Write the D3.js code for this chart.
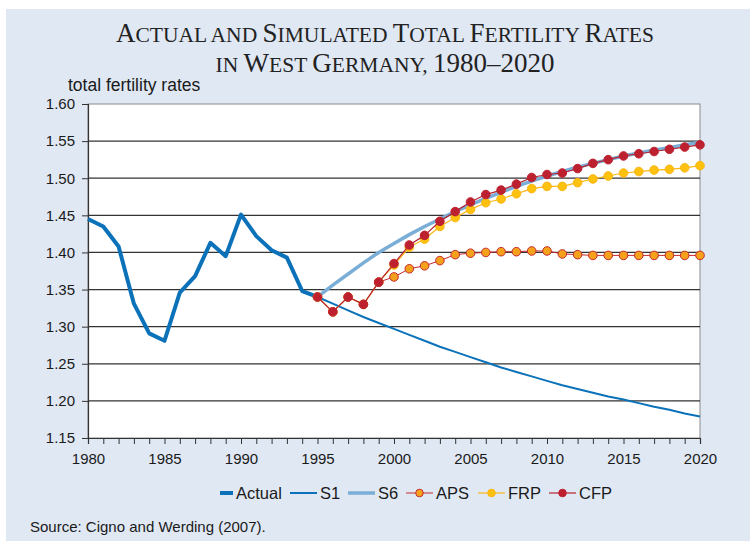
<!DOCTYPE html>
<html>
<head>
<meta charset="utf-8">
<script src="https://cdn.jsdelivr.net/npm/d3@7"></script>
<style>
  body { margin: 0; background: #fff; }
  svg { display: block; }
  text { font-family: "Liberation Sans", Arial, sans-serif; fill: #1a1a1a; }
</style>
</head>
<body>
<svg width="750" height="541"></svg>
<script>
const width = 750;
const height = 541;

// data
const actualYears = d3.range(1980, 1996);
const actual = [1.445, 1.435, 1.408, 1.331, 1.291, 1.281, 1.346, 1.368, 1.413, 1.395,
  1.451, 1.422, 1.403, 1.393, 1.348, 1.340];

const projYears = d3.range(1995, 2021);
const s1 = [1.340, 1.331, 1.322, 1.313, 1.305, 1.297, 1.289, 1.281, 1.273, 1.266,
  1.259, 1.252, 1.245, 1.239, 1.233, 1.227, 1.221, 1.216, 1.211, 1.206,
  1.202, 1.197, 1.192, 1.188, 1.183, 1.179];
const s6 = [1.340, 1.356, 1.371, 1.386, 1.400, 1.412, 1.424, 1.435, 1.445, 1.455,
  1.464, 1.473, 1.481, 1.489, 1.496, 1.503, 1.509, 1.515, 1.520, 1.525,
  1.530, 1.534, 1.538, 1.541, 1.545, 1.548];
const aps = [1.340, 1.320, 1.340, 1.330, 1.360, 1.367, 1.378, 1.382, 1.389, 1.397,
  1.399, 1.400, 1.401, 1.401, 1.402, 1.402, 1.398, 1.397, 1.396, 1.396,
  1.396, 1.396, 1.396, 1.396, 1.396, 1.396];
const frp = [1.340, 1.320, 1.340, 1.330, 1.360, 1.383, 1.407, 1.418, 1.435, 1.447,
  1.458, 1.467, 1.472, 1.479, 1.486, 1.489, 1.489, 1.494, 1.499, 1.503,
  1.507, 1.509, 1.511, 1.512, 1.514, 1.517];
const cfp = [1.340, 1.320, 1.340, 1.330, 1.360, 1.385, 1.410, 1.423, 1.442, 1.455,
  1.468, 1.478, 1.484, 1.492, 1.501, 1.505, 1.507, 1.513, 1.520, 1.525,
  1.530, 1.533, 1.536, 1.539, 1.542, 1.545];

const yTicks = [1.15, 1.20, 1.25, 1.30, 1.35, 1.40, 1.45, 1.50, 1.55, 1.60];
const xLabelYears = [1980, 1985, 1990, 1995, 2000, 2005, 2010, 2015, 2020];

const series = [
  { name: "Actual", years: actualYears, values: actual, color: "#0b72ba", width: 4 },
  { name: "S1", years: projYears, values: s1, color: "#0b72ba", width: 2 },
  { name: "S6", years: projYears, values: s6, color: "#7aaed6", width: 3.5 },
  { name: "APS", years: projYears, values: aps, color: "#c42a2f", width: 1, marker: "#f6a11c", markerStroke: "#c42a2f" },
  { name: "FRP", years: projYears, values: frp, color: "#fbb615", width: 1.2, marker: "#fec10e", markerStroke: "#fbb615" },
  { name: "CFP", years: projYears, values: cfp, color: "#b72330", width: 1.2, marker: "#bd2130", markerStroke: "#bd2130" }
];

const plot = { left: 88, right: 700, top: 104, bottom: 438 };

const svg = d3.select("svg");

// page background
svg.append("rect")
  .attr("x", 6).attr("y", 9)
  .attr("width", width - 6).attr("height", height - 9)
  .attr("fill", "#e0e8f4");

const xScale = d3.scaleLinear().domain([1980, 2020]).range([plot.left, plot.right]);
const yScale = d3.scaleLinear().domain([1.15, 1.60]).range([plot.bottom, plot.top]);

svg.append("rect")
  .attr("x", plot.left).attr("y", plot.top)
  .attr("width", plot.right - plot.left).attr("height", plot.bottom - plot.top)
  .attr("fill", "#fff")
  .attr("stroke", "#8a8a8a");

// grid
svg.append("g")
  .selectAll("line")
  .data(yTicks.filter(d => d > 1.15 && d < 1.60))
  .enter()
  .append("line")
  .attr("x1", plot.left).attr("x2", plot.right)
  .attr("y1", d => yScale(d)).attr("y2", d => yScale(d))
  .attr("stroke", "#333").attr("stroke-width", 1.2);

// title
const title = svg.append("text")
  .attr("text-anchor", "middle")
  .style("font-family", "'Liberation Serif', 'Times New Roman', serif")
  .style("fill", "#222");

function smallCaps(textEl, parts, x, y) {
  const line = textEl.append("tspan").attr("x", x).attr("y", y);
  parts.forEach(([s, big]) => {
    line.append("tspan").style("font-size", big ? "27px" : "21.5px").text(s);
  });
}
smallCaps(title, [["A", 1], ["CTUAL AND ", 0], ["S", 1], ["IMULATED ", 0], ["T", 1], ["OTAL ", 0],
  ["F", 1], ["ERTILITY ", 0], ["R", 1], ["ATES", 0]], 385, 42);
smallCaps(title, [["IN ", 0], ["W", 1], ["EST ", 0], ["G", 1], ["ERMANY, ", 0], ["1980–2020", 1]], 385, 72);

svg.append("text")
  .attr("x", 68).attr("y", 91)
  .style("font-size", "17.5px")
  .text("total fertility rates");

// axes
const yAxis = d3.axisLeft(yScale)
  .tickValues(yTicks)
  .tickFormat(d3.format(".2f"))
  .tickSize(6)
  .tickPadding(7);

const xAxis = d3.axisBottom(xScale)
  .tickValues(d3.range(1980, 2021))
  .tickFormat(d => xLabelYears.includes(d) ? d : "")
  .tickSize(6)
  .tickPadding(9);

const gy = svg.append("g")
  .attr("transform", `translate(${plot.left},0)`)
  .call(yAxis);

const gx = svg.append("g")
  .attr("transform", `translate(0,${plot.bottom})`)
  .call(xAxis);

[gx, gy].forEach(g => {
  g.select(".domain").attr("stroke", "#333").attr("stroke-width", 1.2);
  g.selectAll(".tick line").attr("stroke", "#333");
  g.selectAll(".tick text")
    .style("font-family", "'Liberation Sans', Arial, sans-serif")
    .style("font-size", "15px")
    .attr("fill", "#1a1a1a");
});

// series
const line = d3.line()
  .x(d => xScale(d[0]))
  .y(d => yScale(d[1]));

series.forEach(s => {
  const pts = s.years.map((yr, i) => [yr, s.values[i]]);
  svg.append("path")
    .datum(pts)
    .attr("d", line)
    .attr("fill", "none")
    .attr("stroke", s.color)
    .attr("stroke-width", s.width)
    .attr("stroke-linejoin", "round");
  if (s.marker) {
    svg.append("g")
      .selectAll("circle")
      .data(pts)
      .enter()
      .append("circle")
      .attr("cx", d => xScale(d[0]))
      .attr("cy", d => yScale(d[1]))
      .attr("r", 4.3)
      .attr("fill", s.marker)
      .attr("stroke", s.markerStroke)
      .attr("stroke-width", 1);
  }
});

// legend
const legendX = [220, 290, 348, 406, 478, 549];
const legend = svg.append("g").attr("transform", "translate(0,493)");

series.forEach((s, i) => {
  const x0 = legendX[i];
  const len = i === 0 ? 13 : 27;
  legend.append("line")
    .attr("x1", x0).attr("x2", x0 + len)
    .attr("y1", 0).attr("y2", 0)
    .attr("stroke", s.color)
    .attr("stroke-width", s.width);
  if (s.marker) {
    legend.append("circle")
      .attr("cx", x0 + len / 2).attr("cy", 0)
      .attr("r", 3.8)
      .attr("fill", s.marker)
      .attr("stroke", s.markerStroke);
  }
  legend.append("text")
    .attr("x", x0 + len + 3)
    .attr("y", 6)
    .style("font-size", "16.5px")
    .text(s.name);
});

svg.append("text")
  .attr("x", 30).attr("y", 532)
  .style("font-size", "15px")
  .text("Source: Cigno and Werding (2007).");
</script>
</body>
</html>
